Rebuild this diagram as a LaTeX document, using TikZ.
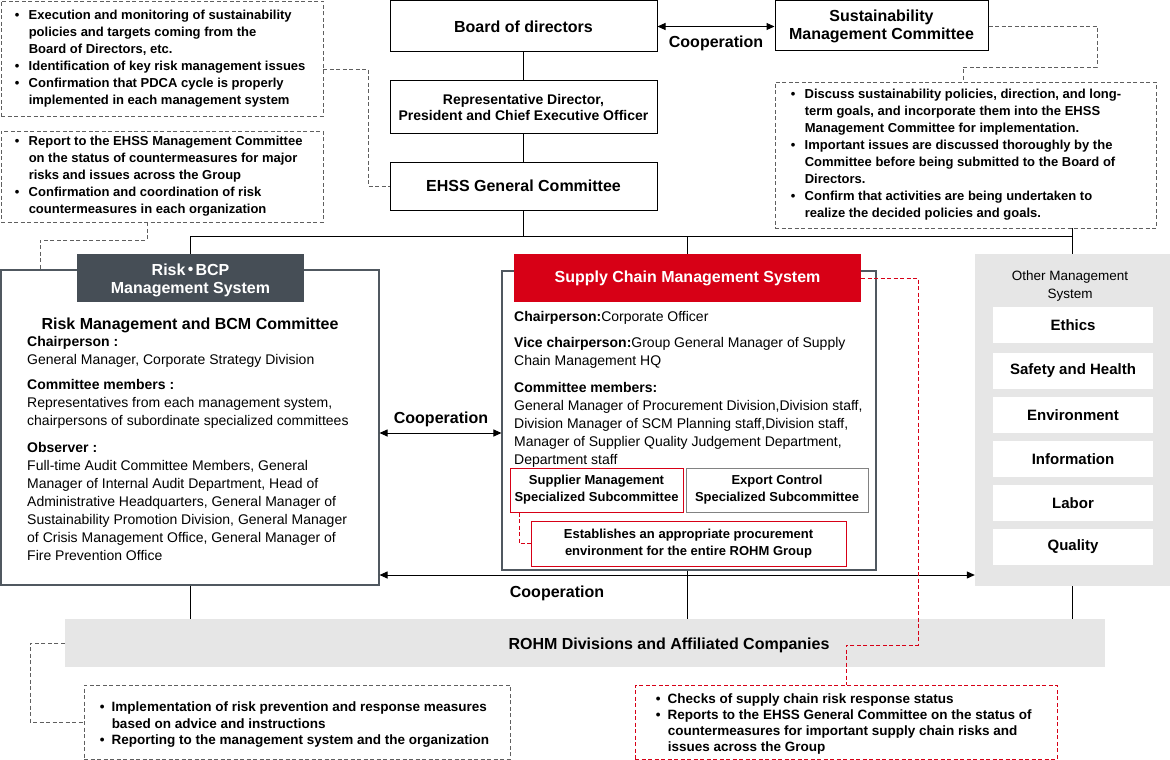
\documentclass[tikz,border=0pt]{standalone}
\usepackage{fontspec}
\setmainfont{Liberation Sans}
\newfontfamily\cjk{Noto Sans CJK JP}
\usetikzlibrary{arrows.meta,calc}
\definecolor{rohmred}{RGB}{215,0,22}
\definecolor{slate}{RGB}{70,78,86}
\definecolor{framec}{RGB}{80,88,96}
\definecolor{lgray}{RGB}{230,230,230}
\definecolor{dgray}{RGB}{95,95,95}
\definecolor{mgray}{RGB}{130,130,130}
\newcommand{\bu}{\makebox[14pt][l]{\textbullet}}
\newcommand{\bi}{\hspace*{14pt}}
\newcommand{\bus}{\makebox[12pt][l]{\textbullet}}
\newcommand{\bis}{\hspace*{12pt}}
\tikzset{
  blk/.style={draw=black, line width=1pt, fill=white, align=center, inner sep=0pt,
    font=\bfseries\fontsize{16}{18}\selectfont},
  gdash/.style={draw=dgray, dash pattern=on 4pt off 2.5pt, line width=0.9pt},
  rdash/.style={draw=rohmred, dash pattern=on 4pt off 2.5pt, line width=0.9pt},
  dbox/.style={gdash, inner sep=0pt},
  rbox/.style={rdash, inner sep=0pt},
  btxt/.style={anchor=west, align=left, inner sep=0pt, font=\bfseries\fontsize{13}{17}\selectfont},
  conn/.style={draw=black, line width=1pt},
  arr/.style={conn, {Triangle[length=8pt,width=7pt]}-{Triangle[length=8pt,width=7pt]}},
  lbl/.style={anchor=base, inner sep=0pt, font=\bfseries\fontsize{16}{18}\selectfont},
  outer/.style={draw=framec, line width=1.1pt, fill=white, inner sep=0pt},
  head/.style={inner sep=0pt, align=center, text=white, font=\bfseries\fontsize{16}{18}\selectfont},
  sub/.style={line width=1pt, fill=white, inner sep=0pt, align=center, font=\bfseries\fontsize{13}{17}\selectfont},
  item/.style={fill=white, inner sep=0pt, minimum width=160pt, minimum height=36pt, font=\bfseries\fontsize{15}{18}\selectfont},
  body/.style={anchor=north west, align=left, inner sep=0pt, font=\fontsize{14}{18}\selectfont}
}
\begin{document}
\begin{tikzpicture}[x=1pt,y=-1pt]
\useasboundingbox (0,0) rectangle (1170,760);

% top column
\node[blk, minimum width=267pt, minimum height=51pt] (board) at (523.5,26.5) {Board of directors};
\node[blk, minimum width=267pt, minimum height=52pt, font=\bfseries\fontsize{14}{16}\selectfont] (rep) at (523.5,107) {Representative Director,\\President and Chief Executive Officer};
\node[blk, minimum width=267pt, minimum height=48pt] (ehss) at (523.5,186) {EHSS General Committee};
\node[blk, minimum width=213pt, minimum height=50pt] (smc) at (881.5,26) {Sustainability\\Management Committee};

% dashed notes
\node[dbox, minimum width=322pt, minimum height=115pt] (b1) at (162,58.5) {};
\node[btxt] (b1t) at ([xshift=14pt]b1.west) {\bu Execution and monitoring of sustainability\\
\bi policies and targets coming from the\\
\bi Board of Directors, etc.\\
\bu Identification of key risk management issues\\
\bu Confirmation that PDCA cycle is properly\\
\bi implemented in each management system};

\node[dbox, minimum width=322pt, minimum height=91pt] (b2) at (162,176.5) {};
\node[btxt] (b2t) at ([xshift=14pt]b2.west) {\bu Report to the EHSS Management Committee\\
\bi on the status of countermeasures for major\\
\bi risks and issues across the Group\\
\bu Confirmation and coordination of risk\\
\bi countermeasures in each organization};

\node[dbox, minimum width=381pt, minimum height=146pt] (b3) at (965.5,155) {};
\node[btxt] (b3t) at ([xshift=16pt]b3.west) {\bu Discuss sustainability policies, direction, and long-\\
\bi term goals, and incorporate them into the EHSS\\
\bi Management Committee for implementation.\\
\bu Important issues are discussed thoroughly by the\\
\bi Committee before being submitted to the Board of\\
\bi Directors.\\
\bu Confirm that activities are being undertaken to\\
\bi realize the decided policies and goals.};

% connectors top
\draw[conn] (board) -- (rep);
\draw[conn] (rep) -- (ehss);
\draw[arr] (board.east) -- (board.east -| smc.west);
\node[lbl] (coop1) at (716,48) {Cooperation};

\coordinate (busL) at (190.5,236);
\coordinate (busR) at (1072.5,236);
\draw[conn] (ehss.south) -- (ehss.south |- busL);
\draw[conn] (busL) -- (busR);

\coordinate (j1) at (368,69);
\draw[gdash] (b1.east |- j1) -- (j1) |- (ehss.west);
\coordinate (j2) at (147,240);
\coordinate (j3) at (40,240);
\coordinate (j4) at (1097,67);
\coordinate (j5) at (963,67);
\draw[gdash] (smc.east) -| (j4) -- (j5) -- (j5 |- b3.north);

% Risk BCP system
\node[outer, minimum width=378pt, minimum height=315pt] (riskbox) at (190,427.5) {};
\node[head, fill=slate, minimum width=227pt, minimum height=48pt] (riskhead) at (190.5,278) {};
\node[head] (riskheadt) at (190.5,280) {\raisebox{0pt}[11.5pt][0pt]{Risk\makebox[10pt][c]{\cjk ・}BCP}\\Management System};
\draw[gdash] (b2.south -| j2) -- (j2) -- (j3) -- (j3 |- riskbox.north);
\node[lbl] (rmt) at (190,329) {Risk Management and BCM Committee};
\node[body] (rbody) at (27,336) {{\bfseries Chairperson :}\\
General Manager, Corporate Strategy Division\\[7pt]
{\bfseries Committee members :}\\
Representatives from each management system,\\
chairpersons of subordinate specialized committees\\[9pt]
{\bfseries Observer :}\\
Full-time Audit Committee Members, General\\
Manager of Internal Audit Department, Head of\\
Administrative Headquarters, General Manager of\\
Sustainability Promotion Division, General Manager\\
of Crisis Management Office, General Manager of\\
Fire Prevention Office};

% Supply chain system
\node[outer, minimum width=374pt, minimum height=299pt] (scmbox) at (689,420.5) {};
\node[head, fill=rohmred, minimum width=347pt, minimum height=48pt] (scmhead) at (687.5,278) {Supply Chain Management System};
\node[body] (sbody) at (514,311) {{\bfseries Chairperson:}Corporate Officer\\[8pt]
{\bfseries Vice chairperson:}Group General Manager of Supply\\
Chain Management HQ\\[9pt]
{\bfseries Committee members:}\\
General Manager of Procurement Division,Division staff,\\
Division Manager of SCM Planning staff,Division staff,\\
Manager of Supplier Quality Judgement Department,\\
Department staff};
\node[sub, draw=rohmred, minimum width=173pt, minimum height=44pt] (supp) at (596.5,490) {Supplier Management\\Specialized Subcommittee};
\node[sub, draw=mgray, minimum width=182pt, minimum height=44pt] (expc) at (777,490) {Export Control\\Specialized Subcommittee};
\node[sub, draw=rohmred, minimum width=315pt, minimum height=45pt] (estab) at (688.5,543.5) {Establishes an appropriate procurement\\environment for the entire ROHM Group};
\coordinate (j9) at (519,543.5);
\draw[rdash] (supp.south -| j9) -- (j9) -- (estab.west);

% Other management systems
\node[fill=lgray, inner sep=0pt, minimum width=195pt, minimum height=332pt] (other) at (1072.5,420) {};
\node[align=center, inner sep=0pt, font=\fontsize{13.5}{18}\selectfont] (othert) at (1070,286) {Other Management\\System};
\node[item] (ethics) at (1073,325) {Ethics};
\node[item] (safety) at (1073,371) {Safety and Health};
\node[item] (env) at (1073,415) {Environment};
\node[item] (info) at (1073,459) {Information};
\node[item] (labor) at (1073,503) {Labor};
\node[item] (qual) at (1073,547) {Quality};

% bus drops
\draw[conn] (busL) -- (riskhead.north);
\draw[conn] (scmhead.north |- busL) -- (scmhead.north);
\draw[conn] (b3.south -| busR) -- (other.north);

% cooperation arrows
\coordinate (c2) at (0,433);
\draw[arr] (riskbox.east |- c2) -- (scmbox.west |- c2);
\node[lbl] (coop2) at (441,423) {Cooperation};
\coordinate (c3) at (0,575);
\draw[arr] (riskbox.east |- c3) -- (other.west |- c3);
\node[lbl] (coop3) at (557,597) {Cooperation};

% ROHM bar
\node[fill=lgray, inner sep=0pt, minimum width=1040pt, minimum height=48pt] (rohm) at (585,643) {};
\node[lbl] (rohmt) at (669,649) {ROHM Divisions and Affiliated Companies};
\draw[conn] (riskbox.south) -- (riskbox.south |- rohm.north);
\draw[conn] (scmbox.south -| scmhead) -- (rohm.north -| scmhead);
\draw[conn] (other.south) -- (other.south |- rohm.north);

% bottom notes
\node[dbox, minimum width=426pt, minimum height=74pt] (b4) at (297,722) {};
\node[btxt, font=\bfseries\fontsize{13.5}{16.5}\selectfont] (b4t) at ([xshift=16pt,yshift=-3pt]b4.west) {\bus Implementation of risk prevention and response measures\\
\bis based on advice and instructions\\
\bus Reporting to the management system and the organization};
\node[rbox, minimum width=422pt, minimum height=74pt] (b5) at (846,722) {};
\node[btxt, font=\bfseries\fontsize{13.5}{16}\selectfont] (b5t) at ([xshift=21pt,yshift=-2.5pt]b5.west) {\bus Checks of supply chain risk response status\\
\bus Reports to the EHSS General Committee on the status of\\
\bis countermeasures for important supply chain risks and\\
\bis issues across the Group};

\coordinate (j6) at (30,643);
\draw[gdash] (rohm.west) -- (j6) |- (b4.west);
\coordinate (j7) at (918,645);
\coordinate (j8) at (846,645);
\draw[rdash] (scmhead.east) -| (j7) -- (j8) -- (j8 |- b5.north);
\end{tikzpicture}
\end{document}
